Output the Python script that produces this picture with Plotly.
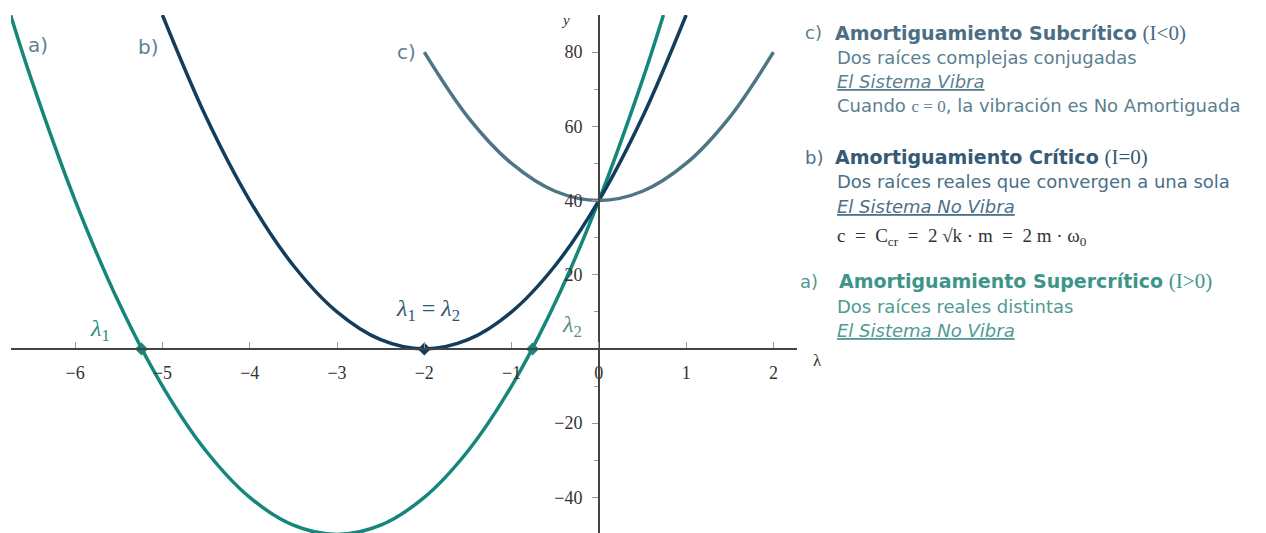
import plotly.graph_objects as go

# --- data -------------------------------------------------------------------
# a) supercritical damping: two distinct real roots
lam_a = [-6.74, -6.5, -6.0, -5.5, -5.0, -4.5, -4.0, -3.5, -3.0, -2.5, -2.0,
         -1.5, -1.0, -0.5, 0.0, 0.5, 0.74]
y_a = [90, 72.5, 40, 12.5, -10, -27.5, -40, -47.5, -50, -47.5, -40,
       -27.5, -10, 12.5, 40, 72.5, 90]

# b) critical damping: one double root
lam_b = [-5.0, -4.5, -4.0, -3.5, -3.0, -2.5, -2.0, -1.5, -1.0, -0.5, 0.0, 0.5, 1.0]
y_b = [90, 62.5, 40, 22.5, 10, 2.5, 0, 2.5, 10, 22.5, 40, 62.5, 90]

# c) subcritical damping: complex conjugate roots (no real crossing)
lam_c = [-2.0, -1.5, -1.0, -0.5, 0.0, 0.5, 1.0, 1.5, 2.0]
y_c = [80, 62.5, 50, 42.5, 40, 42.5, 50, 62.5, 80]

# real roots marked on the λ axis
root_lam = [-5.24, -2.0, -0.76]
root_y = [0, 0, 0]

x_ticks = [-6, -5, -4, -3, -2, -1, 0, 1, 2]
y_ticks = [-40, -20, 20, 40, 60, 80]

# --- styling ----------------------------------------------------------------
W, H = 1266, 533
TEAL = "#15877a"
NAVY = "#123d5c"
SLATE = "#4e7586"
AXIS = "#444444"
SERIF = "Liberation Serif"
SANS = "DejaVu Sans"

x_range = [-6.735, 2.27]
y_range = [-49.6, 90]
x_dom = [11 / W, 797 / W]
y_dom = [0, 1 - 15 / H]

# paper positions where the axes cross the origin
x_axis_pos = y_dom[0] + (y_dom[1] - y_dom[0]) * (0 - y_range[0]) / (y_range[1] - y_range[0])
y_axis_pos = x_dom[0] + (x_dom[1] - x_dom[0]) * (0 - x_range[0]) / (x_range[1] - x_range[0])


def minus(v):
    return ("\u2212" + str(-v)) if v < 0 else str(v)


fig = go.Figure()
for lx, ly, col in [(lam_a, y_a, TEAL), (lam_b, y_b, NAVY), (lam_c, y_c, SLATE)]:
    fig.add_trace(go.Scatter(x=lx, y=ly, mode="lines",
                             line=dict(color=col, width=3.5, shape="spline", smoothing=1),
                             hoverinfo="skip"))

fig.add_trace(go.Scatter(x=root_lam, y=root_y, mode="markers",
                         marker=dict(symbol="diamond", size=10,
                                     color=[TEAL, NAVY, TEAL]),
                         hoverinfo="skip"))

fig.update_layout(
    width=W, height=H,
    margin=dict(l=0, r=0, t=0, b=0),
    paper_bgcolor="white", plot_bgcolor="white",
    showlegend=False,
    xaxis=dict(domain=x_dom, range=x_range, anchor="free", position=x_axis_pos,
               showgrid=False, zeroline=False, showline=True, linecolor=AXIS, linewidth=1.5,
               tickvals=x_ticks, ticktext=[minus(v) for v in x_ticks],
               ticks="inside", ticklen=6, tickcolor="#999999",
               ticklabelstandoff=8,
               tickfont=dict(family=SERIF, size=18, color="#333333")),
    yaxis=dict(domain=y_dom, range=y_range, anchor="free", position=y_axis_pos,
               showgrid=False, zeroline=False, showline=True, linecolor=AXIS, linewidth=1.5,
               tickvals=y_ticks, ticktext=[minus(v) for v in y_ticks],
               ticks="outside", ticklen=6, tickcolor="#999999",
               ticklabelstandoff=6,
               minor=dict(tickvals=[-30, -10, 10, 30, 50, 70], ticks="outside", ticklen=4,
                          tickcolor="#999999"),
               tickfont=dict(family=SERIF, size=18, color="#333333")),
)


def px(x, y):
    return x / W, 1 - y / H


def note(x, y, text, size=18, color="#333333", family=SANS, xanchor="left"):
    xp, yp = px(x, y)
    fig.add_annotation(x=xp, y=yp, xref="paper", yref="paper", text=text,
                       showarrow=False, xanchor=xanchor, yanchor="middle",
                       font=dict(family=family, size=size, color=color))


# curve labels
LBL = "#5f8090"
note(38, 45, "a)", 20, LBL, xanchor="center")
note(148, 47, "b)", 20, LBL, xanchor="center")
note(406, 52, "c)", 20, LBL, xanchor="center")

# root labels
note(100, 330, "<i>λ</i><sub>1</sub>", 24, "#2a8c80", SERIF, "center")
note(428, 310, "<i>λ</i><sub>1</sub> = <i>λ</i><sub>2</sub>", 24, "#2e5773", SERIF, "center")
note(572, 326, "<i>λ</i><sub>2</sub>", 24, "#5a8f8a", SERIF, "center")

# axis titles
note(565, 20, "<i>y</i>", 15, "#333333", SERIF, "center")
note(817, 360, "λ", 17, "#333333", SERIF, "center")

# explanatory text
C_HEAD, C_BODY = "#4b6e84", "#5b7f90"
B_HEAD, B_BODY = "#345a75", "#4a7088"
A_HEAD, A_BODY = "#3f948a", "#4f9a92"


def serif(t, size=21):
    return f"<span style='font-family:{SERIF};font-size:{size}px'>{t}</span>"


def head(t):
    return f"<span style='font-size:19px'><b>{t}</b></span>"


EN = "\u2002"
QS = "\u2005"

note(803, 33, "c)", 18, C_BODY)
note(833, 33, f"{head('Amortiguamiento Subcrítico')} {serif('(I&lt;0)')}", 18, C_HEAD)
note(835, 57, "Dos raíces complejas conjugadas", 18, C_BODY)
note(835, 81, "<i><u>El Sistema Vibra</u></i>", 18, C_BODY)
note(835, 105, f"Cuando {serif('c = 0', 17)}, la vibración es No Amortiguada", 18, C_BODY)

note(803, 157, "b)", 18, B_BODY)
note(833, 157, f"{head('Amortiguamiento Crítico')} {serif('(I=0)')}", 18, B_HEAD)
note(835, 181, "Dos raíces reales que convergen a una sola", 18, B_BODY)
note(835, 206, "<i><u>El Sistema No Vibra</u></i>", 18, B_BODY)
note(835, 237,
     f"c{EN}={EN}C<sub>cr</sub>{EN}={EN}2{QS}√k{QS}·{QS}m{EN}={EN}2{QS}m{QS}·{QS}ω<sub>0</sub>",
     19, "#333333", SERIF)

note(798, 281, "a)", 18, A_BODY)
note(837, 281, f"{head('Amortiguamiento Supercrítico')} {serif('(I&gt;0)')}", 18, A_HEAD)
note(835, 306, "Dos raíces reales distintas", 18, A_BODY)
note(835, 330, "<i><u>El Sistema No Vibra</u></i>", 18, A_BODY)

fig.write_html("out.html")
